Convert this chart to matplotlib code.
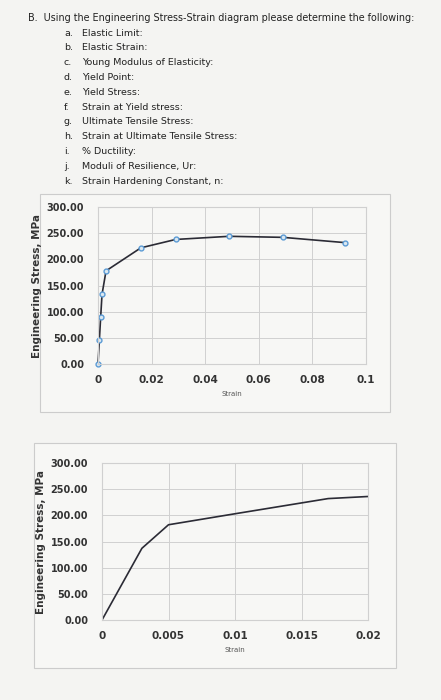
import matplotlib.pyplot as plt
from matplotlib.patches import Rectangle

# Datos
strain_top = [0, 0.0005, 0.001, 0.0015, 0.003, 0.016, 0.029, 0.049, 0.069, 0.092]
stress_top = [0, 45, 90, 133, 178, 222, 238, 244, 242, 232]
strain_bot = [0, 0.003, 0.005, 0.010, 0.017, 0.020]
stress_bot = [0, 137, 182, 203, 232, 236]

titulo = "B.  Using the Engineering Stress-Strain diagram please determine the following:"
letras = ["a.", "b.", "c.", "d.", "e.", "f.", "g.", "h.", "i.", "j.", "k."]
items = ["Elastic Limit:", "Elastic Strain:", "Young Modulus of Elasticity:", "Yield Point:",
         "Yield Stress:", "Strain at Yield stress:", "Ultimate Tensile Stress:",
         "Strain at Ultimate Tensile Stress:", "% Ductility:", "Moduli of Resilience, Ur:",
         "Strain Hardening Constant, n:"]

fig = plt.figure(figsize=(4.41, 7), dpi=100)
fig.patch.set_facecolor("#f4f4f2")
W, H = 441, 700

fig.text(28 / W, 1 - 18 / H, titulo, fontsize=6.9, va="center", color="#222")
for i, (l, t) in enumerate(zip(letras, items)):
    y = 1 - (33 + i * 14.8) / H
    fig.text(64 / W, y, l, fontsize=6.8, va="center", color="#222")
    fig.text(82 / W, y, t, fontsize=6.8, va="center", color="#222")

# marcos de los gráficos
fig.patches.append(Rectangle((40 / W, 1 - 412 / H), 350 / W, 218 / H, transform=fig.transFigure,
                             facecolor="#f7f7f5", edgecolor="#cccccc", lw=0.8, zorder=-5))
fig.patches.append(Rectangle((34 / W, 1 - 668 / H), 362 / W, 225 / H, transform=fig.transFigure,
                             facecolor="#f7f7f5", edgecolor="#cccccc", lw=0.8, zorder=-5))


def preparar(ax, xticks, xlabels):
    ax.set_zorder(2)
    ax.set_facecolor("#f7f7f5")
    ax.set_ylim(0, 300)
    ax.set_yticks(range(0, 301, 50))
    ax.set_yticklabels([f"{v:.2f}" for v in range(0, 301, 50)], fontsize=7, fontweight="bold", color="#333")
    ax.set_xticks(xticks)
    ax.set_xticklabels(xlabels, fontsize=7.5, fontweight="bold", color="#333")
    ax.set_xlim(xticks[0], xticks[-1])
    ax.grid(True, color="#d0d0d0", lw=0.7)
    for s in ax.spines.values():
        s.set_color("#d0d0d0")
    ax.tick_params(axis="x", length=0, pad=8)
    ax.tick_params(axis="y", length=0, pad=10)
    ax.set_ylabel("Engineering Stress, MPa", fontsize=7.5, fontweight="bold", color="#333", labelpad=3)
    ax.set_xlabel("Strain", fontsize=5, color="#555")


ax1 = fig.add_axes([98 / W, 1 - 364 / H, 268 / W, 157 / H])
preparar(ax1, [0, 0.02, 0.04, 0.06, 0.08, 0.1], ["0", "0.02", "0.04", "0.06", "0.08", "0.1"])
ax1.plot(strain_top, stress_top, color="#2b2b35", lw=1.2, marker="o", ms=3.5,
         mfc="#dce8f0", mec="#5b9bd5", mew=1, clip_on=False)

ax2 = fig.add_axes([102 / W, 1 - 620 / H, 266 / W, 157 / H])
preparar(ax2, [0, 0.005, 0.01, 0.015, 0.02], ["0", "0.005", "0.01", "0.015", "0.02"])
ax2.plot(strain_bot, stress_bot, color="#2b2b35", lw=1.2)

fig.savefig("out.png", dpi=100, facecolor=fig.get_facecolor())
